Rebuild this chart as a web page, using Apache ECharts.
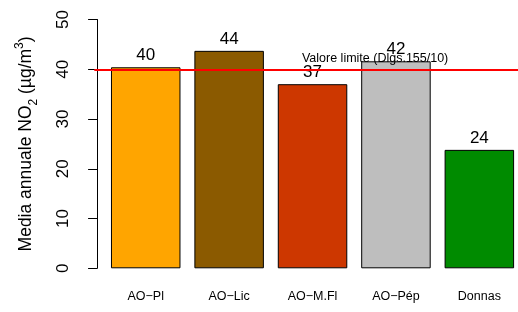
<!DOCTYPE html>
<html lang="it">
<head>
<meta charset="UTF-8">
<title>Media annuale NO2</title>
<script src="https://cdn.jsdelivr.net/npm/echarts@6/dist/echarts.min.js"></script>
<style>
  html, body { margin: 0; padding: 0; background: #fff; }
  #main { width: 518px; height: 312px; }
</style>
</head>
<body>
<div id="main"></div>
<script>
    // dati
    var stations = ['AO\u2212Pl', 'AO\u2212Lic', 'AO\u2212M.Fl', 'AO\u2212P\u00e9p', 'Donnas'];
    var no2Values = [40.4, 43.7, 37.0, 41.6, 23.8];
    var barColors = ['#FFA500', '#8B5A00', '#CD3700', '#BEBEBE', '#008B00'];
    var yTicks = [0, 50, 10];            // min, max, passo
    var limitValue = 40;
    var limitText = 'Valore limite (Dlgs.155/10)';
    var limitTextAt = [4.0, 42.1];

    // posizioni come in barplot di R (width 1, space 0.2)
    function barPos(i) {
        return 0.7 + i * 1.2;
    }

    var FONT = "'Liberation Sans', Arial, sans-serif";
    var myChart = echarts.init(document.getElementById('main'));

    var barData = [];
    var labelPos = [];
    for (var i = 0; i < no2Values.length; i++) {
        barData.push({
            value: [barPos(i), no2Values[i]],
            itemStyle: { color: barColors[i] }
        });
        labelPos.push(barPos(i));
    }

    var option = {
        animation: false,
        backgroundColor: '#fff',
        grid: {
            left: 94.3,
            top: 19.5,
            right: 0,
            height: 248.8
        },
        xAxis: {
            type: 'value',
            min: -0.04,
            max: 6.056,
            axisLine: { show: false },
            axisTick: { show: false },
            splitLine: { show: false },
            axisLabel: {
                customValues: labelPos,
                margin: 22,
                fontSize: 12.5,
                fontFamily: FONT,
                color: '#000',
                formatter: function (v) {
                    return stations[Math.round((v - 0.7) / 1.2)];
                }
            }
        },
        yAxis: {
            type: 'value',
            min: yTicks[0],
            max: yTicks[1],
            interval: yTicks[2],
            splitLine: { show: false },
            axisLine: { show: true, lineStyle: { color: '#000', width: 1 } },
            axisTick: { show: true, length: 9, lineStyle: { color: '#000' } },
            axisLabel: {
                rotate: 90,
                margin: 22,
                fontSize: 17,
                fontFamily: FONT,
                color: '#000'
            },
            name: '{a|Media annuale NO}{sub|2}{a| (\u00b5g/m}{sup|3}{a|)}',
            nameLocation: 'middle',
            nameRotate: 90,
            nameGap: 55,
            nameTextStyle: {
                fontFamily: FONT,
                rich: {
                    a: { fontSize: 17.5, lineHeight: 26, color: '#000', fontFamily: FONT },
                    sub: { fontSize: 12, lineHeight: 26, verticalAlign: 'bottom', color: '#000', fontFamily: FONT },
                    sup: { fontSize: 12, lineHeight: 26, verticalAlign: 'top', color: '#000', fontFamily: FONT }
                }
            }
        },
        series: [{
            type: 'bar',
            data: barData,
            barWidth: 69.5,
            itemStyle: { borderColor: '#000', borderWidth: 1 },
            label: {
                show: true,
                position: 'top',
                distance: 3,
                fontSize: 17,
                fontFamily: FONT,
                color: '#000',
                formatter: function (p) {
                    return Math.round(p.value[1]);
                }
            },
            markLine: {
                silent: true,
                symbol: ['none', 'none'],
                label: { show: false },
                lineStyle: { color: '#FF0000', width: 2, type: 'solid' },
                data: [{ yAxis: limitValue }]
            },
            markPoint: {
                silent: true,
                symbol: 'circle',
                symbolSize: 0,
                label: {
                    show: true,
                    position: 'inside',
                    formatter: limitText,
                    fontSize: 12.5,
                    fontFamily: FONT,
                    color: '#000'
                },
                data: [{ coord: limitTextAt }]
            }
        }]
    };
    myChart.setOption(option);
</script>
</body>
</html>
